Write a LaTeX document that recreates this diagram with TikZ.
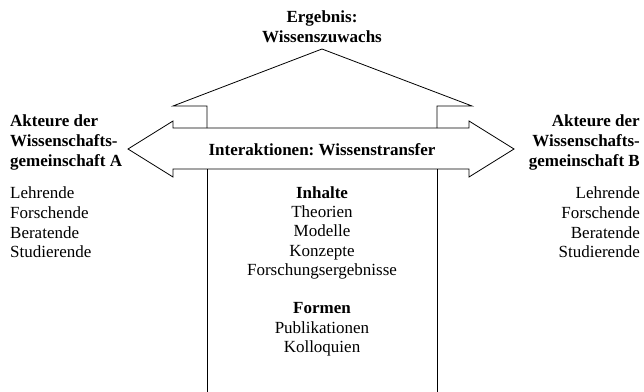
\documentclass[tikz,border=0pt]{standalone}
\usepackage{fontspec}
\setmainfont{Liberation Serif}
\frenchspacing
\begin{document}
\begin{tikzpicture}[x=1pt,y=-1pt,
  outline/.style={draw=black,line width=0.8pt,line join=miter},
  txt/.style={inner sep=0pt,font=\fontsize{17}{19.5}\selectfont},
  lt/.style={txt,anchor=base west},
  rt/.style={txt,anchor=base east},
  ct/.style={txt,anchor=base},
  bf/.style={font=\fontsize{17}{19.5}\selectfont\bfseries}]
\useasboundingbox (0,0) rectangle (644,391);
% roof
\draw[outline] (207,128) -- (207,106) -- (173,106) -- (322,49) -- (472,106) -- (437,106) -- (437,128);
% double arrow
\draw[outline] (128,149) -- (173,121) -- (173,128) -- (469,128) -- (469,121) -- (514,149)
  -- (469,177) -- (469,169) -- (173,169) -- (173,177) -- cycle;
% column
\coordinate (cl) at (207,169);
\coordinate (cr) at (437,169);
\coordinate (bl) at (207,392);
\coordinate (br) at (437,392);
\draw[outline] (cl) -- (bl);
\draw[outline] (cr) -- (br);
% top
\node[ct,bf] (e1) at (322,22) {Ergebnis:};
\node[ct,bf] (e2) at (322,42) {Wissenszuwachs};
\node[ct,bf] (it) at (322,155) {Interaktionen: Wissenstransfer};
% left
\node[lt,bf] (a1) at (10,126) {Akteure der};
\node[lt,bf] (a2) at (10,146) {Wissenschafts-};
\node[lt,bf] (a3) at (10,166) {gemeinschaft A};
\node[lt] (a4) at (10,198) {Lehrende};
\node[lt] (a5) at (10,218) {Forschende};
\node[lt] (a6) at (10,238) {Beratende};
\node[lt] (a7) at (10,257) {Studierende};
% right
\node[rt,bf] (b1) at (640,126) {Akteure der};
\node[rt,bf] (b2) at (640,146) {Wissenschafts-};
\node[rt,bf] (b3) at (640,166) {gemeinschaft B};
\node[rt] (b4) at (640,198) {Lehrende};
\node[rt] (b5) at (640,218) {Forschende};
\node[rt] (b6) at (640,238) {Beratende};
\node[rt] (b7) at (640,257) {Studierende};
% center
\node[ct,bf] (c1) at (322,198) {Inhalte};
\node[ct] (c2) at (322,217) {Theorien};
\node[ct] (c3) at (322,236.5) {Modelle};
\node[ct] (c4) at (322,256) {Konzepte};
\node[ct] (c5) at (322,275) {Forschungsergebnisse};
\node[ct,bf] (c6) at (322,313.5) {Formen};
\node[ct] (c7) at (322,333) {Publikationen};
\node[ct] (c8) at (322,352) {Kolloquien};
\end{tikzpicture}
\end{document}
